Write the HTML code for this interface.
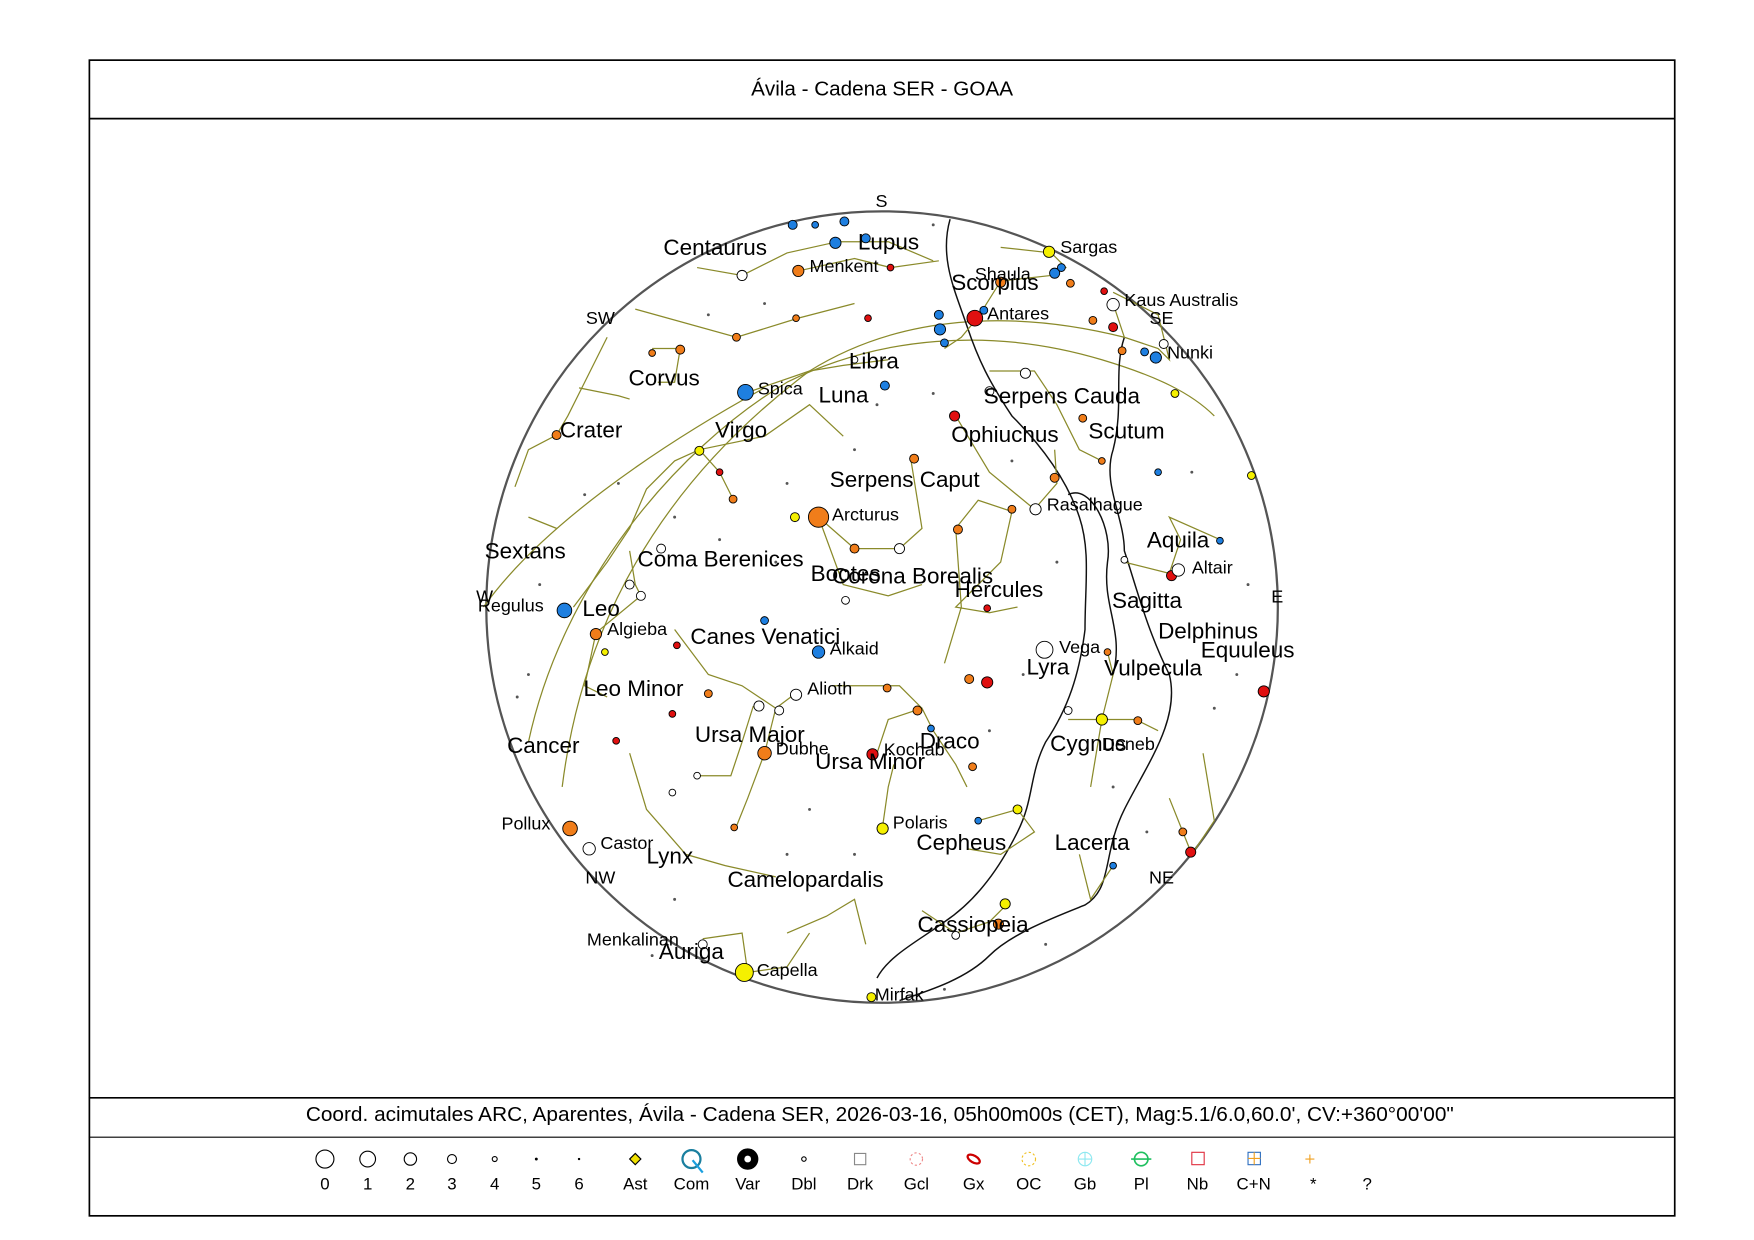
<!DOCTYPE html>
<html><head><meta charset="utf-8"><style>html,body{margin:0;padding:0;background:#fff}svg{display:block}text{font-family:"Liberation Sans",sans-serif;fill:#000}</style></head><body>
<svg width="1754" height="1240" viewBox="0 0 1560 1103" preserveAspectRatio="none" xmlns="http://www.w3.org/2000/svg">
<rect x="79.5" y="53.5" width="1410" height="1028" fill="none" stroke="#000" stroke-width="1.5"/>
<line x1="79" y1="105.5" x2="1489" y2="105.5" stroke="#000" stroke-width="1.5"/>
<line x1="79" y1="976.5" x2="1489" y2="976.5" stroke="#000" stroke-width="1.5"/>
<line x1="79" y1="1011.5" x2="1489" y2="1011.5" stroke="#000" stroke-width="1"/>
<text x="668" y="85" font-size="18" textLength="233" lengthAdjust="spacingAndGlyphs">Ávila - Cadena SER - GOAA</text>
<text x="272" y="997" font-size="18" textLength="1021" lengthAdjust="spacingAndGlyphs">Coord. acimutales ARC, Aparentes, Ávila - Cadena SER, 2026-03-16, 05h00m00s (CET), Mag:5.1/6.0,60.0', CV:+360°00'00"</text>

<circle cx="784.5" cy="540" r="352" fill="#fff" stroke="#555" stroke-width="2"/>
<g fill="none" stroke="#8a8a2a" stroke-width="1.1">
<path d="M470,660 C500,520 600,400 700,340 C780,300 880,290 980,320 C1030,335 1060,350 1080,370"/>
<path d="M430,540 C480,470 580,400 680,345"/>
<path d="M500,700 C520,540 600,420 720,330 C800,280 900,275 1000,300"/>
</g>
<g fill="none" stroke="#111" stroke-width="1.3">
<path d="M845,195 C835,230 850,260 860,290 C870,320 880,340 900,370 C930,400 950,430 960,460 C970,490 965,520 965,560 C960,600 950,630 930,660 C915,690 920,710 905,740 C890,770 870,800 840,820 C820,835 790,850 780,870"/>
<path d="M1000,300 C990,330 1000,360 990,400 C980,430 1000,460 1000,490 C1010,520 1020,560 1040,600 C1050,640 1020,680 1000,720 C980,760 990,790 965,805 C940,815 900,830 880,850 C860,870 830,880 800,890"/>
<path d="M950,440 C970,430 990,470 985,500 C980,540 1000,560 990,600"/>
</g>
<g fill="none" stroke="#8a8a2a" stroke-width="1.1">
<polyline points="620,238 660,245 700,225 745,215 790,215 830,232"/>
<polyline points="710,241 760,230 792,238 835,232"/>
<polyline points="565,275 655,300 710,283 760,270"/>
<polyline points="890,220 935,225 948,238 935,245 890,250 870,282 855,300 840,310"/>
<polyline points="990,270 1000,300 1030,310 1040,320 1030,280 990,260"/>
<polyline points="580,310 605,310 600,340 585,340"/>
<polyline points="540,300 520,340 505,370 495,387 470,400 458,433"/>
<polyline points="515,345 550,352 560,355"/>
<polyline points="622,400 640,420 652,444"/>
<polyline points="622,400 600,410 575,435 560,470 540,500 510,540"/>
<polyline points="662,350 720,330 750,325 790,320"/>
<polyline points="622,400 680,388 720,360 750,388"/>
<polyline points="728,460 760,488 800,488 820,470 810,408"/>
<polyline points="728,460 750,520 790,530 820,520"/>
<polyline points="850,470 870,445 900,455 890,500 850,540 880,545 905,540"/>
<polyline points="850,470 855,540 840,590"/>
<polyline points="880,330 920,330 940,360 960,400 980,410"/>
<polyline points="850,370 880,420 920,453 940,430 938,400"/>
<polyline points="1000,500 1040,510 1050,480 1040,460 1085,480"/>
<polyline points="560,490 565,520 570,530 530,563 520,610 540,620"/>
<polyline points="470,460 495,470"/>
<polyline points="600,560 630,600 660,610 690,630 710,615"/>
<polyline points="670,628 660,660 650,690 620,690"/>
<polyline points="690,630 680,670 665,710 655,735"/>
<polyline points="780,670 790,640 820,630 830,650 850,680 860,700"/>
<polyline points="740,610 800,610 820,630"/>
<polyline points="785,735 790,700 795,680"/>
<polyline points="870,730 905,720 920,740 890,760 860,755"/>
<polyline points="950,640 980,640 1010,640 1030,650"/>
<polyline points="980,640 990,600 985,580"/>
<polyline points="980,640 975,670 970,700"/>
<polyline points="1040,710 1060,760 1080,730 1070,670"/>
<polyline points="560,670 575,720 610,760 645,770 690,780"/>
<polyline points="700,830 735,815 760,800 770,840"/>
<polyline points="625,835 660,830 665,865 700,860 720,830"/>
<polyline points="820,810 850,830 880,820 895,805"/>
<polyline points="990,770 970,800 960,760"/>
</g>
<g stroke="#000" stroke-width="0.8">
<g fill="#1e7fe0">
<circle cx="663" cy="349" r="7"/><circle cx="502" cy="543" r="6.5"/><circle cx="728" cy="580" r="5.5"/>
<circle cx="705" cy="200" r="4"/><circle cx="751" cy="197" r="4"/><circle cx="743" cy="216" r="5"/><circle cx="770" cy="212" r="4"/>
<circle cx="835" cy="280" r="4"/><circle cx="836" cy="293" r="5"/><circle cx="840" cy="305" r="3.5"/><circle cx="787" cy="343" r="4"/>
<circle cx="1028" cy="318" r="5"/><circle cx="1018" cy="313" r="3.5"/><circle cx="875" cy="276" r="3.5"/><circle cx="938" cy="243" r="4.5"/>
<circle cx="944" cy="238" r="3.5"/><circle cx="680" cy="552" r="3.5"/><circle cx="828" cy="648" r="3"/><circle cx="870" cy="730" r="3"/>
<circle cx="1085" cy="481" r="3"/><circle cx="990" cy="770" r="3"/><circle cx="1030" cy="420" r="3"/><circle cx="725" cy="200" r="3"/>
</g>
<g fill="#f07d1a">
<circle cx="728" cy="460" r="9"/><circle cx="680" cy="670" r="6"/><circle cx="507" cy="737" r="6.5"/><circle cx="530" cy="564" r="5"/>
<circle cx="710" cy="241" r="5"/><circle cx="655" cy="300" r="3.5"/><circle cx="605" cy="311" r="4"/><circle cx="495" cy="387" r="4"/>
<circle cx="652" cy="444" r="3.5"/><circle cx="760" cy="488" r="4"/><circle cx="813" cy="408" r="4"/><circle cx="852" cy="471" r="4"/>
<circle cx="900" cy="453" r="3.5"/><circle cx="938" cy="425" r="4"/><circle cx="963" cy="372" r="3.5"/><circle cx="998" cy="312" r="3.5"/>
<circle cx="972" cy="285" r="3.5"/><circle cx="890" cy="251" r="4.5"/><circle cx="952" cy="252" r="3.5"/><circle cx="789" cy="612" r="3.5"/>
<circle cx="816" cy="632" r="4"/><circle cx="862" cy="604" r="4"/><circle cx="865" cy="682" r="3.5"/><circle cx="1012" cy="641" r="3.5"/>
<circle cx="1052" cy="740" r="3.5"/><circle cx="888" cy="822" r="4.5"/><circle cx="630" cy="617" r="3.5"/><circle cx="653" cy="736" r="3"/>
<circle cx="708" cy="283" r="3"/><circle cx="980" cy="410" r="3"/><circle cx="985" cy="580" r="3"/><circle cx="580" cy="314" r="3"/>
</g>
<g fill="#e01010">
<circle cx="867" cy="283" r="7"/><circle cx="776" cy="671" r="5"/><circle cx="1042" cy="512" r="4.5"/><circle cx="1059" cy="758" r="4.5"/>
<circle cx="1124" cy="615" r="5"/><circle cx="878" cy="607" r="5"/><circle cx="849" cy="370" r="4.5"/><circle cx="990" cy="291" r="4"/>
<circle cx="792" cy="238" r="3"/><circle cx="640" cy="420" r="3"/><circle cx="598" cy="635" r="3"/><circle cx="548" cy="659" r="3"/>
<circle cx="602" cy="574" r="3"/><circle cx="772" cy="283" r="3"/><circle cx="878" cy="541" r="3"/><circle cx="982" cy="259" r="3"/>
</g>
<g fill="#f5f000">
<circle cx="662" cy="865" r="8"/><circle cx="785" cy="737" r="5"/><circle cx="980" cy="640" r="5"/><circle cx="933" cy="224" r="5"/>
<circle cx="707" cy="460" r="4"/><circle cx="622" cy="401" r="4"/><circle cx="905" cy="720" r="4"/><circle cx="894" cy="804" r="4.5"/>
<circle cx="1113" cy="423" r="3.5"/><circle cx="775" cy="887" r="4"/><circle cx="1045" cy="350" r="3.5"/><circle cx="538" cy="580" r="3"/>
</g>
<g fill="#fff">
<circle cx="929" cy="578" r="7.5"/><circle cx="1048" cy="507" r="5.5"/><circle cx="524" cy="755" r="5.5"/><circle cx="921" cy="453" r="5"/>
<circle cx="990" cy="271" r="5.5"/><circle cx="660" cy="245" r="4.5"/><circle cx="1035" cy="306" r="4"/><circle cx="708" cy="618" r="5"/>
<circle cx="693" cy="632" r="4"/><circle cx="675" cy="628" r="4.5"/><circle cx="560" cy="520" r="4"/><circle cx="570" cy="530" r="4"/>
<circle cx="588" cy="488" r="4"/><circle cx="800" cy="488" r="4.5"/><circle cx="912" cy="332" r="4.5"/><circle cx="880" cy="348" r="4"/>
<circle cx="625" cy="840" r="4"/><circle cx="752" cy="534" r="3.5"/><circle cx="620" cy="690" r="3"/><circle cx="950" cy="632" r="3.5"/>
<circle cx="598" cy="705" r="3"/><circle cx="850" cy="832" r="3.5"/><circle cx="760" cy="320" r="3"/><circle cx="1000" cy="498" r="3"/>
</g>
</g>
<g fill="#555">
<circle cx="520" cy="440" r="1.3"/><circle cx="550" cy="430" r="1.3"/><circle cx="600" cy="460" r="1.3"/><circle cx="640" cy="480" r="1.3"/>
<circle cx="690" cy="500" r="1.3"/><circle cx="700" cy="430" r="1.3"/><circle cx="760" cy="400" r="1.3"/><circle cx="780" cy="360" r="1.3"/>
<circle cx="830" cy="350" r="1.3"/><circle cx="900" cy="410" r="1.3"/><circle cx="940" cy="500" r="1.3"/><circle cx="910" cy="600" r="1.3"/>
<circle cx="880" cy="650" r="1.3"/><circle cx="720" cy="720" r="1.3"/><circle cx="700" cy="760" r="1.3"/><circle cx="760" cy="760" r="1.3"/>
<circle cx="600" cy="800" r="1.3"/><circle cx="580" cy="850" r="1.3"/><circle cx="840" cy="880" r="1.3"/><circle cx="930" cy="840" r="1.3"/>
<circle cx="1080" cy="630" r="1.3"/><circle cx="1100" cy="600" r="1.3"/><circle cx="1110" cy="520" r="1.3"/><circle cx="1060" cy="420" r="1.3"/>
<circle cx="470" cy="600" r="1.3"/><circle cx="460" cy="620" r="1.3"/><circle cx="480" cy="520" r="1.3"/><circle cx="630" cy="280" r="1.3"/>
<circle cx="680" cy="270" r="1.3"/><circle cx="830" cy="200" r="1.3"/><circle cx="990" cy="700" r="1.3"/><circle cx="1020" cy="740" r="1.3"/>
</g>
<g font-size="16">
<text x="784" y="184" text-anchor="middle">S</text><text x="534" y="288" text-anchor="middle">SW</text><text x="1033" y="288" text-anchor="middle">SE</text>
<text x="431" y="536" text-anchor="middle">W</text><text x="1136" y="536" text-anchor="middle">E</text><text x="534" y="786" text-anchor="middle">NW</text><text x="1033" y="786" text-anchor="middle">NE</text>
<text x="720" y="242">Menkent</text><text x="943" y="225">Sargas</text><text x="867" y="249">Shaula</text><text x="878" y="284">Antares</text>
<text x="1000" y="272">Kaus Australis</text><text x="1038" y="319">Nunki</text><text x="674" y="351">Spica</text><text x="931" y="454">Rasalhague</text>
<text x="740" y="463">Arcturus</text><text x="1060" y="510">Altair</text><text x="425" y="544">Regulus</text><text x="540" y="565">Algieba</text>
<text x="738" y="582">Alkaid</text><text x="942" y="581">Vega</text><text x="718" y="618">Alioth</text><text x="690" y="671">Dubhe</text>
<text x="786" y="672">Kochab</text><text x="980" y="667">Deneb</text><text x="794" y="737">Polaris</text><text x="446" y="738">Pollux</text>
<text x="534" y="755">Castor</text><text x="522" y="841">Menkalinan</text><text x="673" y="868">Capella</text><text x="778" y="890">Mirfak</text>
</g>
<g font-size="20">
<text x="590" y="227">Centaurus</text><text x="763" y="222">Lupus</text><text x="846" y="258">Scorpius</text><text x="755" y="328">Libra</text>
<text x="559" y="343">Corvus</text><text x="728" y="358">Luna</text><text x="875" y="359">Serpens Cauda</text><text x="498" y="389">Crater</text>
<text x="636" y="389">Virgo</text><text x="846" y="393">Ophiuchus</text><text x="968" y="390">Scutum</text><text x="738" y="433">Serpens Caput</text>
<text x="1020" y="487">Aquila</text><text x="431" y="497">Sextans</text><text x="567" y="504">Coma Berenices</text><text x="721" y="517">Bootes</text>
<text x="740" y="519">Corona Borealis</text><text x="849" y="531">Hercules</text><text x="989" y="541">Sagitta</text><text x="518" y="548">Leo</text>
<text x="1030" y="568">Delphinus</text><text x="614" y="573">Canes Venatici</text><text x="1068" y="585">Equuleus</text><text x="913" y="600">Lyra</text>
<text x="982" y="601">Vulpecula</text><text x="519" y="619">Leo Minor</text><text x="451" y="670">Cancer</text><text x="618" y="660">Ursa Major</text>
<text x="818" y="666">Draco</text><text x="934" y="668">Cygnus</text><text x="725" y="684">Ursa Minor</text><text x="815" y="756">Cepheus</text>
<text x="938" y="756">Lacerta</text><text x="575" y="768">Lynx</text><text x="647" y="789">Camelopardalis</text><text x="816" y="829">Cassiopeia</text>
<text x="586" y="853">Auriga</text>
</g>
<g stroke="#000" stroke-width="1" fill="#fff">
<circle cx="289" cy="1031" r="8"/><circle cx="327" cy="1031" r="7"/><circle cx="365" cy="1031" r="5.5"/><circle cx="402" cy="1031" r="4"/><circle cx="440" cy="1031" r="2.2"/>
<circle cx="477" cy="1031" r="0.8" fill="#000"/><circle cx="515" cy="1031" r="0.6" fill="#000"/>
<path d="M565,1026 L570,1031 L565,1036 L560,1031 Z" fill="#f0e000"/>
<circle cx="615" cy="1031" r="8" stroke="#1a7f9f" stroke-width="2"/><line x1="616" y1="1032" x2="625" y2="1043" stroke="#1a9fdf" stroke-width="2"/>
<circle cx="665" cy="1031" r="9" fill="#000"/><circle cx="665" cy="1031" r="3" fill="#fff" stroke="none"/>
<circle cx="715" cy="1031" r="2"/><rect x="760" y="1026" width="10" height="10" stroke="#888"/>
<circle cx="815" cy="1031" r="5.5" stroke="#e88" stroke-dasharray="2,2"/>
<ellipse cx="866" cy="1031" rx="6" ry="3" stroke="#c00" stroke-width="2" transform="rotate(30 866 1031)"/>
<circle cx="915" cy="1031" r="6" stroke="#f0c020" stroke-dasharray="2,2"/>
<circle cx="965" cy="1031" r="6" stroke="#8de8f0"/><path d="M959,1031H971M965,1025V1037" stroke="#8de8f0"/>
<circle cx="1015" cy="1031" r="6" stroke="#20c060" stroke-width="1.5"/><path d="M1006,1031H1024" stroke="#20c060" stroke-width="1.5"/>
<rect x="1060" y="1025" width="11" height="11" stroke="#e03040"/>
<rect x="1110" y="1025" width="11" height="11" stroke="#3070c0"/><path d="M1115.5,1025V1036M1110,1030.5H1121" stroke="#f0a020"/>
<path d="M1161,1031H1169M1165,1027V1035" stroke="#f0a020"/>
</g>
<g font-size="15" text-anchor="middle">
<text x="289" y="1058">0</text><text x="327" y="1058">1</text><text x="365" y="1058">2</text><text x="402" y="1058">3</text><text x="440" y="1058">4</text><text x="477" y="1058">5</text><text x="515" y="1058">6</text>
<text x="565" y="1058">Ast</text><text x="615" y="1058">Com</text><text x="665" y="1058">Var</text><text x="715" y="1058">Dbl</text><text x="765" y="1058">Drk</text><text x="815" y="1058">Gcl</text>
<text x="866" y="1058">Gx</text><text x="915" y="1058">OC</text><text x="965" y="1058">Gb</text><text x="1015" y="1058">Pl</text><text x="1065" y="1058">Nb</text><text x="1115" y="1058">C+N</text>
<text x="1168" y="1058">*</text><text x="1216" y="1058">?</text>
</g>
</svg>
</body></html>
